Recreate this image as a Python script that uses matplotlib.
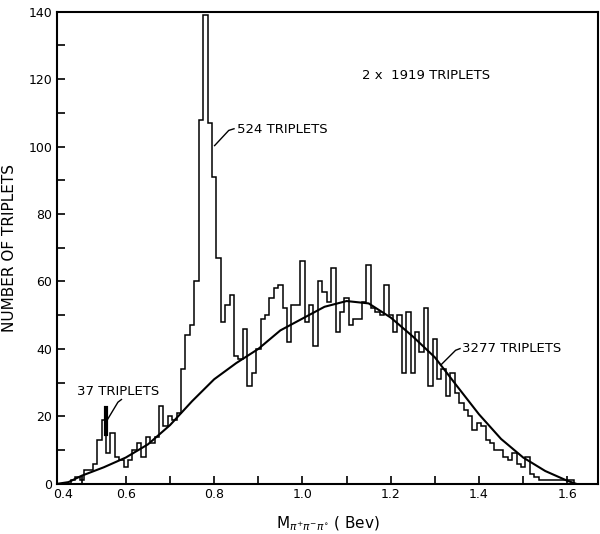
import numpy as np
import matplotlib
matplotlib.use("Agg")
import matplotlib.pyplot as plt

# bin centres of the histogram (Bev), 10 MeV wide
mass = np.round(np.arange(0.45, 1.615, 0.01), 2)
counts = [
    0, 0, 0, 1, 2, 1, 4, 4, 6, 13,      # 0.45 - 0.54
    19, 9, 15, 8, 7, 5, 7, 10, 12, 8,   # 0.55 - 0.64
    14, 12, 14, 23, 17, 20, 19, 21, 34, 44,  # 0.65 - 0.74
    47, 60, 108, 139, 107, 91, 67, 48, 53, 56,  # 0.75 - 0.84
    38, 37, 46, 29, 33, 40, 49, 50, 55, 58,  # 0.85 - 0.94
    59, 52, 42, 53, 53, 66, 48, 53, 41, 60,  # 0.95 - 1.04
    57, 54, 64, 45, 51, 55, 47, 49, 49, 54,  # 1.05 - 1.14
    65, 52, 51, 50, 59, 50, 45, 50, 33, 51,  # 1.15 - 1.24
    33, 45, 39, 52, 29, 43, 31, 34, 26, 33,  # 1.25 - 1.34
    27, 24, 22, 20, 16, 18, 17, 13, 12, 10,  # 1.35 - 1.44
    10, 8, 7, 9, 6, 5, 8, 3, 2, 1,      # 1.45 - 1.54
    1, 1, 1, 1, 1, 1, 1,                # 1.55 - 1.61
]

# phase space curve
curve_m = [0.445, 0.47, 0.50, 0.55, 0.60, 0.65, 0.70, 0.75, 0.80, 0.85,
           0.90, 0.95, 1.00, 1.05, 1.10, 1.15, 1.20, 1.25, 1.30, 1.35,
           1.40, 1.45, 1.50, 1.55, 1.60, 1.62]
curve_n = [0, 0.5, 2.4, 4.9, 7.8, 11.7, 17.4, 24.5, 31.0, 35.8,
           40.0, 45.5, 49.0, 52.5, 54.2, 53.5, 49.3, 43.7, 37.5, 29.0,
           20.6, 13.3, 7.8, 3.8, 0.9, 0]

edges = np.round(np.append(mass - 0.005, mass[-1] + 0.005), 3)

fig = plt.figure(figsize=(6, 5.34), dpi=100)
ax = fig.add_axes([0.095, 0.094, 0.902, 0.884])

ax.stairs(counts, edges, color="black", lw=1.1, baseline=0)
ax.plot(curve_m, curve_n, color="black", lw=1.5)

ax.set_xlim(0.444, 1.67)
ax.set_ylim(0, 140)

ax.set_xticks([0.6, 0.8, 1.0, 1.2, 1.4, 1.6])
ax.set_xticklabels(["0.6", "0.8", "1.0", "1.2", "1.4", "1.6"])
ax.set_xticks(np.arange(0.5, 1.65, 0.1), minor=True)
ax.set_yticks(np.arange(0, 141, 20))
ax.set_yticks(np.arange(10, 140, 20), minor=True)
ax.tick_params(which="both", direction="in", length=6, width=1.2, labelsize=9)
ax.tick_params(axis="x", pad=3)
# the corner label sits at the axis origin, as in the original
ax.text(0.458, -1.3, "0.4", fontsize=9, ha="center", va="top")
for s in ax.spines.values():
    s.set_linewidth(1.5)

ax.set_ylabel("NUMBER OF TRIPLETS", fontsize=11, labelpad=8)
ax.set_xlabel(r"$\mathrm{M}_{\pi^{+}\pi^{-}\pi^{\circ}}$ ( Bev)", fontsize=11, labelpad=10)

ax.text(1.136, 121.2, "2 x  1919 TRIPLETS", fontsize=9.5, va="center")
ax.text(0.851, 105, "524 TRIPLETS", fontsize=9.5, va="center")
ax.plot([0.845, 0.833, 0.801], [105.3, 104.8, 100.3], color="black", lw=1)
ax.text(0.489, 27.4, "37 TRIPLETS", fontsize=9.5, va="center")
ax.plot([0.590, 0.582, 0.559], [25, 24.2, 19.2], color="black", lw=1)
ax.plot([0.556, 0.556], [14.7, 22.4], color="black", lw=3)
ax.text(1.362, 40.1, "3277 TRIPLETS", fontsize=9.5, va="center")
ax.plot([1.357, 1.347, 1.314], [40.1, 39.6, 35.3], color="black", lw=1)

fig.savefig("out.png", dpi=100)
